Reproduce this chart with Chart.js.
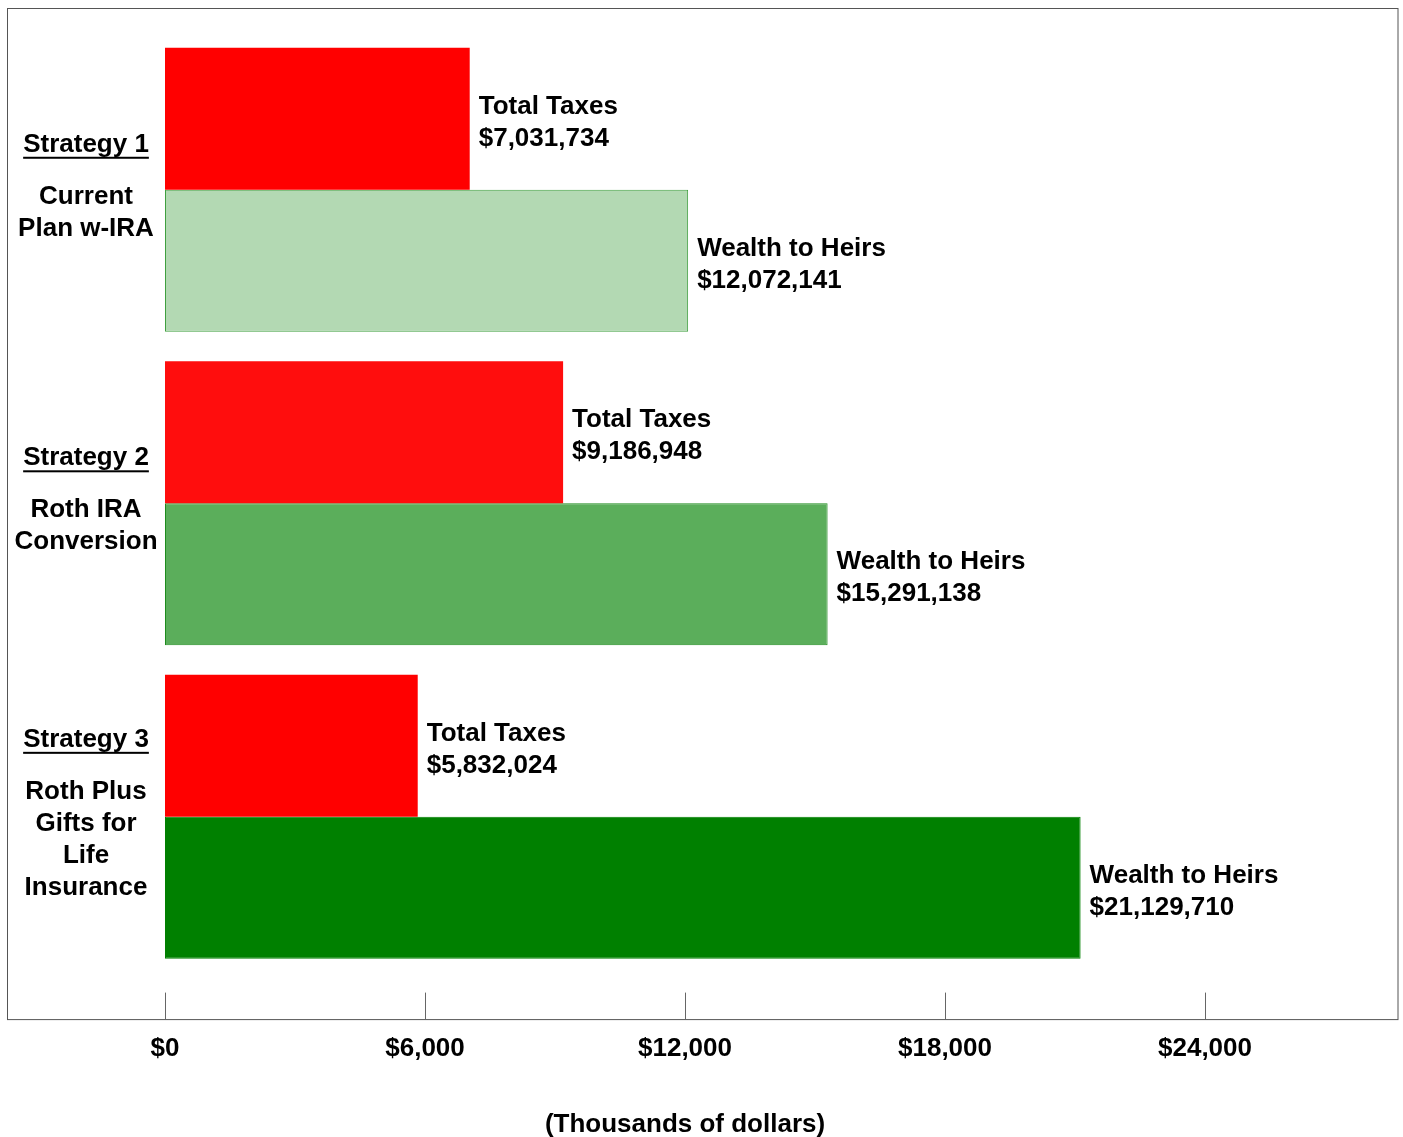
<!DOCTYPE html>
<html lang="en">
<head>
  <meta charset="UTF-8" />
  <title>Strategy comparison</title>
  <script src="https://cdn.jsdelivr.net/npm/chart.js@4"></script>
  <style>
    html, body { margin: 0; padding: 0; background: #fff; }
    #wrap { width: 1403px; height: 1137px; }
  </style>
</head>
<body>
  <div id="wrap"><canvas id="chart" width="1403" height="1137"></canvas></div>

  <script>
    // values in thousands of dollars
    const strategies = ['Strategy 1', 'Strategy 2', 'Strategy 3'];
    const strategyNotes = [['Current', 'Plan w-IRA'], ['Roth IRA', 'Conversion'], ['Roth Plus', 'Gifts for', 'Life', 'Insurance']];
    const totalTaxes = [7031.734, 9186.948, 5832.024];
    const wealthToHeirs = [12072.141, 15291.138, 21129.710];
    const xTicks = [0, 6000, 12000, 18000, 24000];

    const FONT = '"Liberation Sans", Arial, Helvetica, sans-serif';
    const taxColors = ['#ff0000', '#ff0d0d', '#ff0000'];
    const wealthColors = ['#b3d9b3', '#5bae5b', '#008000'];
    const wealthBorders = ['#3f9f3f', '#1e8c1e', '#008000'];

    const money = v => '$' + Math.round(v * 1000).toLocaleString('en-US');

    const decor = {
      id: 'decor',
      afterDraw(chart) {
        const ctx = chart.ctx;
        const ca = chart.chartArea;
        const x = chart.scales.x, y = chart.scales.y;
        const frameBottom = ca.bottom + 46;
        ctx.save();
        // outer frame
        ctx.strokeStyle = '#555';
        ctx.lineWidth = 1;
        ctx.strokeRect(7.5, 8.5, chart.width - 5 - 7.5, frameBottom - 8.5);
        // tick marks sitting on the frame bottom
        ctx.strokeStyle = '#666';
        x.ticks.forEach(t => {
          const px = Math.round(x.getPixelForValue(t.value)) + 0.5;
          ctx.beginPath();
          ctx.moveTo(px, frameBottom - 27);
          ctx.lineTo(px, frameBottom);
          ctx.stroke();
        });

        // bar end labels
        ctx.fillStyle = '#000';
        ctx.font = 'bold 26px ' + FONT;
        ctx.textBaseline = 'middle';
        ctx.textAlign = 'left';
        const sets = [['Total Taxes', totalTaxes], ['Wealth to Heirs', wealthToHeirs]];
        sets.forEach(([name, vals], di) => {
          chart.getDatasetMeta(di).data.forEach((bar, i) => {
            ctx.fillText(name, bar.x + 9, bar.y - 12);
            ctx.fillText(money(vals[i]), bar.x + 9, bar.y + 20);
          });
        });

        // category labels on the left
        ctx.textAlign = 'center';
        const cx = 86;
        strategies.forEach((s, i) => {
          const notes = strategyNotes[i];
          const cy = y.getPixelForValue(i) - 3;
          const blockH = 52 + 32 * (notes.length - 1);
          let ly = cy - blockH / 2;
          ctx.fillText(s, cx, ly);
          const w = ctx.measureText(s).width;
          ctx.fillRect(cx - w / 2, ly + 12, w, 2);
          ly += 52;
          notes.forEach(n => { ctx.fillText(n, cx, ly); ly += 32; });
        });
        ctx.restore();
      }
    };

    new Chart(document.getElementById('chart'), {
      type: 'bar',
      data: {
        labels: strategies,
        datasets: [
          { label: 'Total Taxes', data: totalTaxes, backgroundColor: taxColors, borderWidth: 0 },
          { label: 'Wealth to Heirs', data: wealthToHeirs, backgroundColor: wealthColors,
            borderColor: wealthBorders, borderWidth: 1, borderSkipped: false }
        ]
      },
      options: {
        indexAxis: 'y',
        responsive: false,
        animation: false,
        categoryPercentage: 0.906,
        barPercentage: 1,
        layout: { padding: { left: 165, right: 198, top: 33, bottom: 2 } },
        plugins: { legend: { display: false }, tooltip: { enabled: false } },
        scales: {
          y: { display: false },
          x: {
            min: 0, max: 24000,
            afterBuildTicks: s => { s.ticks = xTicks.map(v => ({ value: v })); },
            grid: { display: false, drawTicks: false },
            border: { display: false },
            ticks: {
              padding: 60,
              color: '#000',
              maxRotation: 0,
              font: { family: FONT, size: 26, weight: 'bold' },
              callback: v => '$' + v.toLocaleString('en-US')
            },
            title: {
              display: true,
              text: '(Thousands of dollars)',
              color: '#000',
              font: { family: FONT, size: 26, weight: 'bold' },
              padding: { top: -16, bottom: -5 }
            }
          }
        }
      },
      plugins: [decor]
    });
  </script>
</body>
</html>
